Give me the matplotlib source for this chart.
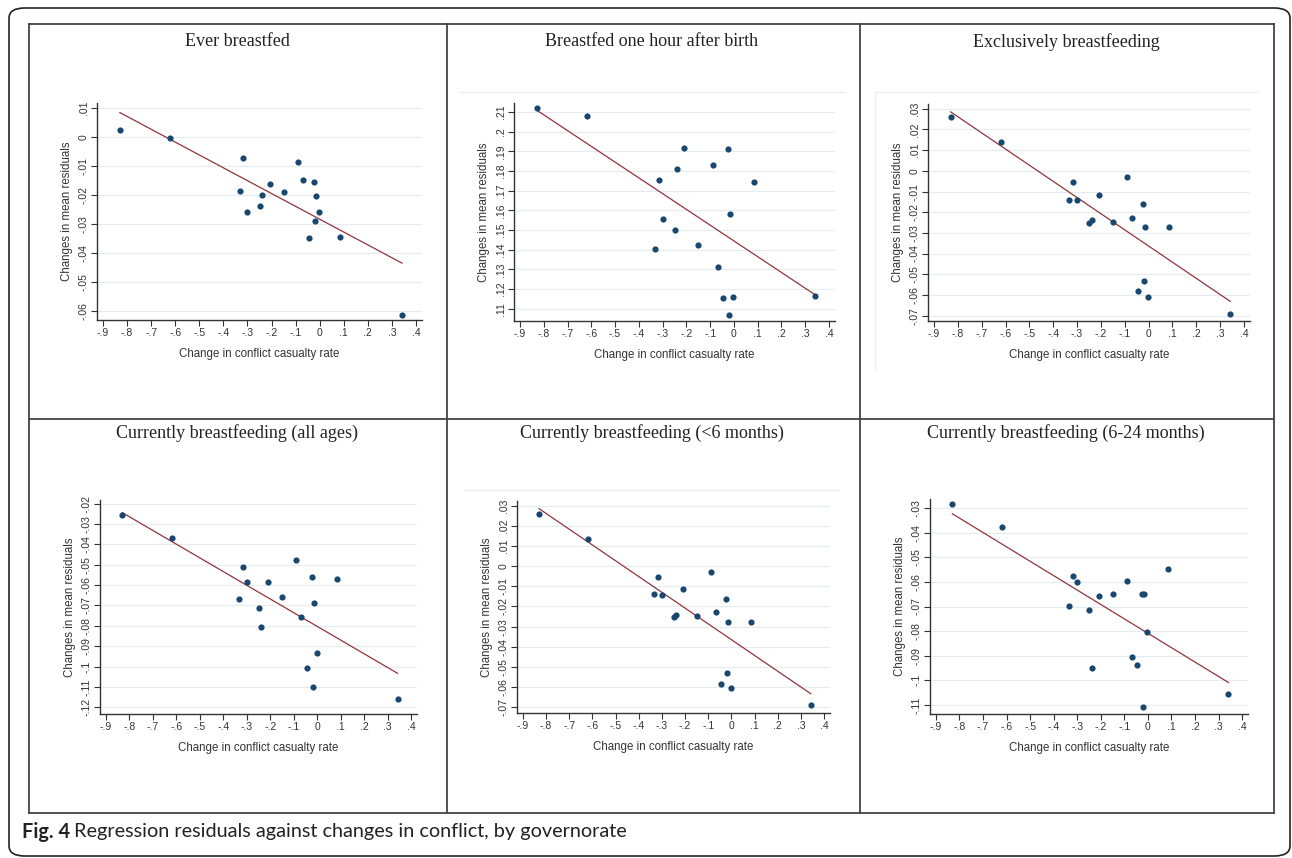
import numpy as np
import matplotlib
matplotlib.use("Agg")
import matplotlib.pyplot as plt
from matplotlib.lines import Line2D
from matplotlib.patches import FancyBboxPatch

# change in conflict casualty rate, one value per governorate (same in all panels)
gov_x = [-0.83, -0.62, -0.333, -0.317, -0.300, -0.250, -0.238, -0.208, -0.150,
         -0.089, -0.068, -0.045, -0.024, -0.020, -0.015, -0.002, 0.086, 0.342]

# changes in mean residuals per panel
ever_y = [0.0023, -0.0003, -0.0188, -0.0071, -0.0257, -0.0238, -0.0200, -0.0162, -0.0189,
          -0.0087, -0.0148, -0.0350, -0.0155, -0.0289, -0.0205, -0.0257, -0.0344, -0.0613]
hour_y = [0.2119, 0.2080, 0.1401, 0.1753, 0.1556, 0.1501, 0.1811, 0.1918, 0.1425,
          0.1833, 0.1314, 0.1154, 0.1911, 0.1069, 0.1583, 0.1159, 0.1744, 0.1166]
excl_y = [0.0261, 0.0139, -0.0140, -0.0055, -0.0140, -0.0250, -0.0239, -0.0115, -0.0247,
          -0.0029, -0.0226, -0.0582, -0.0161, -0.0531, -0.0274, -0.0608, -0.0274, -0.0690]
all_y = [-0.0257, -0.0367, -0.0667, -0.0509, -0.0585, -0.0714, -0.0807, -0.0583, -0.0657,
         -0.0477, -0.0758, -0.1009, -0.0560, -0.1102, -0.0689, -0.0932, -0.0568, -0.1161]
lt6_y = [0.0260, 0.0137, -0.0140, -0.0054, -0.0143, -0.0251, -0.0240, -0.0114, -0.0248,
         -0.0027, -0.0228, -0.0585, -0.0165, -0.0531, -0.0276, -0.0607, -0.0276, -0.0692]
m624_y = [-0.0282, -0.0377, -0.0696, -0.0575, -0.0602, -0.0715, -0.0952, -0.0657, -0.0651,
          -0.0597, -0.0906, -0.0939, -0.0651, -0.1110, -0.0651, -0.0803, -0.0548, -0.1057]

# fitted line values at the smallest and largest x
fit_lines = [(0.0084, -0.0435), (0.2110, 0.1170), (0.0285, -0.0631),
             (-0.0244, -0.1033), (0.0287, -0.0634), (-0.0323, -0.1009)]

titles = ["Ever breastfed", "Breastfed one hour after birth", "Exclusively breastfeeding",
          "Currently breastfeeding (all ages)", "Currently breastfeeding (<6 months)",
          "Currently breastfeeding (6-24 months)"]
series = [ever_y, hour_y, excl_y, all_y, lt6_y, m624_y]
y_ticks = [np.arange(-0.06, 0.011, 0.01), np.arange(0.11, 0.211, 0.01),
           np.arange(-0.07, 0.031, 0.01), np.arange(-0.12, -0.019, 0.01),
           np.arange(-0.07, 0.031, 0.01), np.arange(-0.11, -0.029, 0.01)]
y_lims = [(-0.0631, 0.0117), (0.1037, 0.2146), (-0.0726, 0.0323),
          (-0.1233, -0.0182), (-0.0730, 0.0325), (-0.1137, -0.0263)]
x_ticks = np.arange(-0.9, 0.41, 0.1)

# axes boxes in pixels: left, top, right, bottom
boxes = [(97, 103, 422, 320), (514, 103, 835, 321), (928, 104, 1250, 321),
         (100, 500, 417, 714), (517, 501, 830, 713), (930, 499, 1248, 714)]
title_pos = [(237, 42), (652, 42), (1066, 42), (237, 433), (652, 433), (1066, 433)]

W, H = 1292, 858
navy = "#1a476f"
maroon = "#90353b"
grid_c = "#e4ecef"


def fmt(v):
    v = round(v, 2)
    if abs(v) < 1e-9:
        return "0"
    s = ("%.2f" % v).rstrip("0").rstrip(".")
    return s.replace("0.", ".")


fig = plt.figure(figsize=(W / 100, H / 100), dpi=100)
fig.patch.set_facecolor("white")

for i in range(6):
    l, t, r, b = boxes[i]
    ax = fig.add_axes([l / W, 1 - b / H, (r - l) / W, (b - t) / H])
    ax.scatter(gov_x, series[i], s=20, color=navy, zorder=3, linewidths=0)
    xs = [min(gov_x), max(gov_x)]
    ax.plot(xs, fit_lines[i], color=maroon, lw=0.9, zorder=2)
    ax.set_xlim(-0.925, 0.425)
    ax.set_ylim(*y_lims[i])
    ax.set_xticks(x_ticks)
    ax.set_xticklabels([fmt(v) for v in x_ticks])
    ax.set_yticks(y_ticks[i])
    ax.set_yticklabels([fmt(v) for v in y_ticks[i]], rotation=90, va="center")
    ax.yaxis.grid(True, color=grid_c, lw=0.8)
    ax.set_axisbelow(True)
    for sp in ["top", "right"]:
        ax.spines[sp].set_visible(False)
    for sp in ["left", "bottom"]:
        ax.spines[sp].set_color("#333333")
        ax.spines[sp].set_linewidth(1.0)
    ax.tick_params(direction="out", length=4, width=0.8, color="#333333",
                   labelsize=7.5, labelcolor="#333333", pad=2)
    for lab in ax.get_xticklabels() + ax.get_yticklabels():
        lab.set_family("Liberation Sans")
    ax.set_xlabel("Change in conflict casualty rate", fontsize=8.3,
                  family="Liberation Sans", color="#333333", labelpad=7)
    ax.set_ylabel("Changes in mean residuals", fontsize=8.3,
                  family="Liberation Sans", color="#333333", labelpad=4)
    tx, ty = title_pos[i]
    fig.text(tx / W, 1 - ty / H, titles[i], ha="center", va="center",
             fontsize=13, family="Liberation Serif", color="#222222")

# faint graph-region edges seen in some panels
faint = "#ececec"
for (x0, y0, x1, y1) in [(460, 92, 845, 92), (875, 92, 1258, 92), (875, 92, 875, 370),
                         (465, 490, 838, 490)]:
    fig.add_artist(Line2D([x0 / W, x1 / W], [1 - y0 / H, 1 - y1 / H], color=faint, lw=1))

# table grid
tab_c = "#444444"
tl, tt, tr, tb = 29, 24, 1274, 813
for (x0, y0, x1, y1) in [(tl, tt, tr, tt), (tl, tb, tr, tb), (tl, tt, tl, tb), (tr, tt, tr, tb),
                         (447, tt, 447, tb), (860, tt, 860, tb), (tl, 419, tr, 419)]:
    fig.add_artist(Line2D([x0 / W, x1 / W], [1 - y0 / H, 1 - y1 / H], color=tab_c, lw=1.3))

# outer rounded frame
frame = FancyBboxPatch((9 / W, 1 - 856 / H), (1290 - 9) / W, (856 - 8) / H,
                       boxstyle="round,pad=0,rounding_size=0.012",
                       transform=fig.transFigure, fill=False, ec="#222222", lw=1.2)
fig.add_artist(frame)

# caption
cap_y = 1 - 832 / H
t1 = fig.text(22 / W, cap_y, "Fig. 4", ha="left", va="center", fontsize=14.3,
              fontweight="bold", family="Lato", color="#222222")
fig.canvas.draw()
bb = t1.get_window_extent()
fig.text((bb.x1 + 4) / W, cap_y, "Regression residuals against changes in conflict, by governorate",
         ha="left", va="center", fontsize=14.3, family="Lato", color="#222222")

fig.savefig("out.png", dpi=100)
